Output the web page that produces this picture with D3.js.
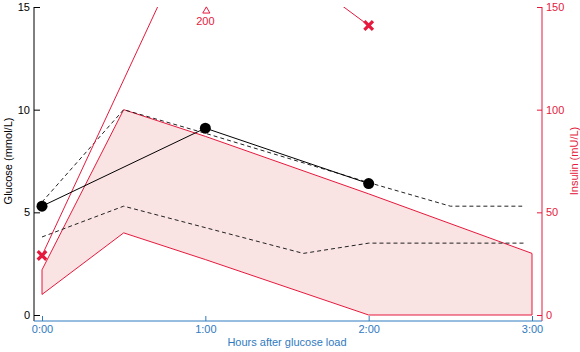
<!DOCTYPE html>
<html><head><meta charset="utf-8">
<script src="https://cdn.jsdelivr.net/npm/d3@7"></script>
<style>
body{margin:0;background:#fff;}
svg{display:block;font-family:"Liberation Sans",Arial,sans-serif;}
</style></head>
<body>
<svg id="chart" width="580" height="352"></svg>
<script>
// ---- data ----
const xTicks = [0, 1, 2, 3];
const xTickLabels = ["0:00", "1:00", "2:00", "3:00"];
const glucoseTicks = [0, 5, 10, 15];
const insulinTicks = [0, 50, 100, 150];

// patient glucose (mmol/L)
const glucoseTimes = [0, 1, 2];
const glucoseValues = [5.3, 9.1, 6.4];

// normal glucose range (dashed lines)
const glucoseUpperTimes = [0, 0.5, 1, 2, 2.5, 2.94];
const glucoseUpperValues = [5.5, 10.0, 8.85, 6.45, 5.3, 5.3];
const glucoseLowerTimes = [0, 0.5, 1.6, 2, 2.96];
const glucoseLowerValues = [3.8, 5.3, 3.0, 3.5, 3.5];

// normal insulin range (band, mU/L)
const insulinBandTimes = [0, 0.5, 1, 2, 3];
const insulinBandUpper = [22, 100, 87, 59, 30];
const insulinBandLower = [10, 40, 27, 0, 0];

// patient insulin (mU/L)
const insulinTimes = [0, 1, 2];
const insulinValues = [29, 200, 141];

// ---- layout ----
const RED = "#e5193d", BLUE = "#2f7abf", FILL = "#fae3e3";
const svg = d3.select("#chart");
const x = d3.scaleLinear().domain([0, 3]).range([42, 532]);
const yG = d3.scaleLinear().domain([0, 15]).range([315, 7]);
const yI = d3.scaleLinear().domain([0, 150]).range([315, 7]);
const axisLeftX = 34, axisRightX = 542, axisBottomY = 321;

svg.append("defs").append("clipPath").attr("id", "clip")
  .append("rect").attr("x", axisLeftX).attr("y", 7)
  .attr("width", axisRightX - axisLeftX).attr("height", axisBottomY - 7);

const plot = svg.append("g").attr("clip-path", "url(#clip)");

// insulin band
const band = insulinBandTimes.map((t, i) => ({t, hi: insulinBandUpper[i], lo: insulinBandLower[i]}));
plot.append("path").datum(band)
  .attr("d", d3.area().x(d => x(d.t)).y0(d => yI(d.lo)).y1(d => yI(d.hi)))
  .attr("fill", FILL).attr("stroke", "none");
const outline = band.map(d => [x(d.t), yI(d.hi)])
  .concat(band.slice().reverse().map(d => [x(d.t), yI(d.lo)]));
plot.append("path")
  .attr("d", d3.line()(outline) + "Z")
  .attr("fill", "none").attr("stroke", RED).attr("stroke-width", 1);

// glucose normal range dashed
const dashLine = (ts, vs) => d3.line().x((d, i) => x(ts[i])).y(d => yG(d))(vs);
plot.append("path").attr("d", dashLine(glucoseUpperTimes, glucoseUpperValues))
  .attr("fill", "none").attr("stroke", "#222").attr("stroke-width", 1).attr("stroke-dasharray", "4,3");
plot.append("path").attr("d", dashLine(glucoseLowerTimes, glucoseLowerValues))
  .attr("fill", "none").attr("stroke", "#222").attr("stroke-width", 1).attr("stroke-dasharray", "4,3");

// patient insulin line
plot.append("path")
  .attr("d", d3.line().x((d, i) => x(insulinTimes[i])).y(d => yI(d))(insulinValues))
  .attr("fill", "none").attr("stroke", RED).attr("stroke-width", 1);

// patient glucose line
plot.append("path")
  .attr("d", d3.line().x((d, i) => x(glucoseTimes[i])).y(d => yG(d))(glucoseValues))
  .attr("fill", "none").attr("stroke", "#000").attr("stroke-width", 1);
plot.selectAll("circle.g").data(glucoseValues).enter().append("circle")
  .attr("cx", (d, i) => x(glucoseTimes[i])).attr("cy", d => yG(d)).attr("r", 5.5).attr("fill", "#000");

// insulin markers
const yMax = yI.domain()[1];
insulinValues.forEach((v, i) => {
  const cx = x(insulinTimes[i]);
  if (v <= yMax) {
    const cy = yI(v), s = 4.3;
    svg.append("path")
      .attr("d", `M${cx - s},${cy - s}L${cx + s},${cy + s}M${cx - s},${cy + s}L${cx + s},${cy - s}`)
      .attr("stroke", RED).attr("stroke-width", 3.2).attr("fill", "none");
  } else {
    svg.append("path")
      .attr("d", d3.symbol().type(d3.symbolTriangle).size(22)())
      .attr("transform", `translate(${cx + 1},${11})`)
      .attr("fill", "none").attr("stroke", RED).attr("stroke-width", 1);
    svg.append("text").attr("x", cx).attr("y", 25).attr("text-anchor", "middle")
      .attr("font-size", 11).attr("fill", RED).text(v);
  }
});

// ---- axes ----
const gL = svg.append("g").attr("transform", `translate(${axisLeftX},0)`)
  .call(d3.axisLeft(yG).tickValues(glucoseTicks).tickSizeInner(-6).tickSizeOuter(0).tickPadding(4));
gL.select(".domain").remove();
gL.selectAll("line").attr("stroke", "#000");
gL.selectAll("text").attr("font-size", 11).attr("fill", "#000").attr("font-family", "Liberation Sans, Arial, sans-serif");
svg.append("line").attr("x1", axisLeftX).attr("x2", axisLeftX).attr("y1", 7).attr("y2", axisBottomY)
  .attr("stroke", "#000").attr("stroke-width", 1);

const gR = svg.append("g").attr("transform", `translate(${axisRightX},0)`)
  .call(d3.axisRight(yI).tickValues(insulinTicks).tickSizeInner(-5).tickSizeOuter(0).tickPadding(4));
gR.select(".domain").remove();
gR.selectAll("line").attr("stroke", RED);
gR.selectAll("text").attr("font-size", 11).attr("fill", RED).attr("font-family", "Liberation Sans, Arial, sans-serif");
svg.append("line").attr("x1", axisRightX).attr("x2", axisRightX).attr("y1", 7).attr("y2", axisBottomY)
  .attr("stroke", RED).attr("stroke-width", 1);

const gB = svg.append("g").attr("transform", `translate(0,${axisBottomY})`)
  .call(d3.axisBottom(x).tickValues(xTicks).tickFormat((d, i) => xTickLabels[i]).tickSizeInner(-5).tickSizeOuter(0).tickPadding(4));
gB.select(".domain").remove();
gB.selectAll("line").attr("stroke", BLUE);
gB.selectAll("text").attr("font-size", 11).attr("fill", BLUE).attr("font-family", "Liberation Sans, Arial, sans-serif");
svg.append("line").attr("x1", axisLeftX).attr("x2", axisRightX).attr("y1", axisBottomY).attr("y2", axisBottomY)
  .attr("stroke", BLUE).attr("stroke-width", 1);

// titles
svg.append("text").attr("x", (x(0) + x(3)) / 2).attr("y", 346).attr("text-anchor", "middle")
  .attr("font-size", 11).attr("fill", BLUE).text("Hours after glucose load");
svg.append("text").attr("transform", `translate(12,${(7 + 315) / 2}) rotate(-90)`).attr("text-anchor", "middle")
  .attr("font-size", 11).attr("fill", "#000").text("Glucose (mmol/L)");
svg.append("text").attr("transform", `translate(578,${(7 + 315) / 2}) rotate(-90)`).attr("text-anchor", "middle")
  .attr("font-size", 11).attr("fill", RED).text("Insulin (mU/L)");
</script>
</body></html>
